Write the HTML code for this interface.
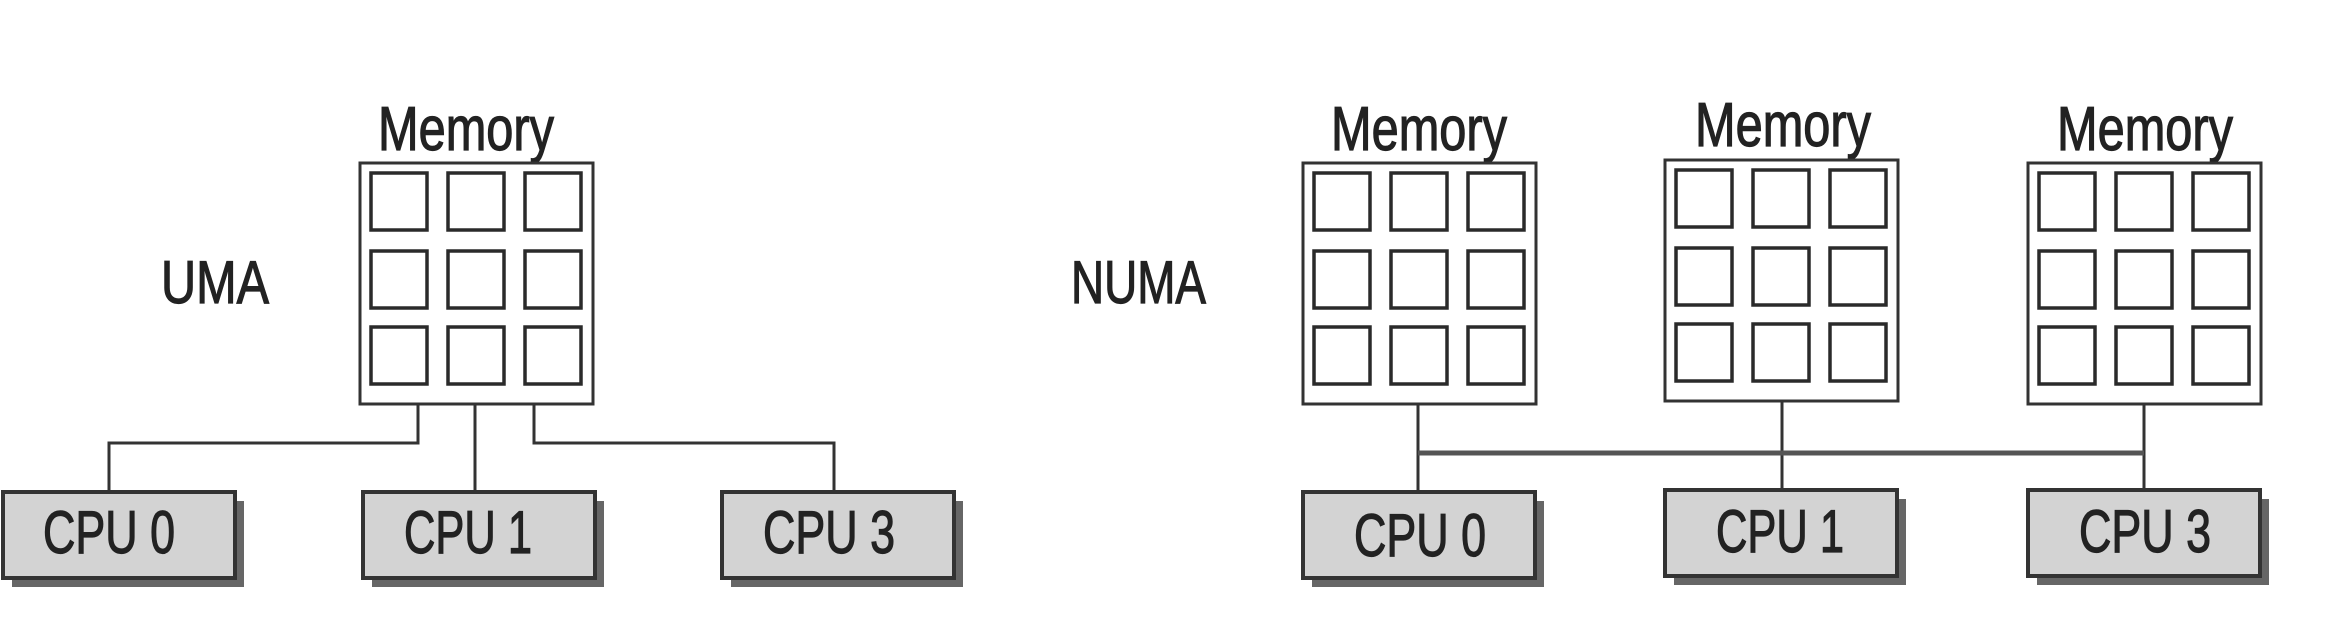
<!DOCTYPE html>
<html><head><meta charset="utf-8"><style>
html,body{margin:0;padding:0;background:#fff;}
svg{display:block;}
text{font-family:"Liberation Sans",sans-serif;fill:#222;stroke:#222;stroke-width:1.2;}
</style></head><body>
<svg width="2340" height="636" viewBox="0 0 2340 636" xmlns="http://www.w3.org/2000/svg">
<defs>
<g id="mem">
  <rect x="0" y="0" width="233" height="241" fill="#fff" stroke="#333" stroke-width="3"/>
  <g fill="none" stroke="#2a2a2a" stroke-width="3.5">
    <rect x="11" y="10" width="56" height="57"/><rect x="88" y="10" width="56" height="57"/><rect x="165" y="10" width="56" height="57"/>
    <rect x="11" y="88" width="56" height="57"/><rect x="88" y="88" width="56" height="57"/><rect x="165" y="88" width="56" height="57"/>
    <rect x="11" y="164" width="56" height="57"/><rect x="88" y="164" width="56" height="57"/><rect x="165" y="164" width="56" height="57"/>
  </g>
</g>
<g id="cpu">
  <rect x="9" y="9" width="232" height="86" fill="#666"/>
  <rect x="0" y="0" width="232" height="86" fill="#d3d3d3" stroke="#333" stroke-width="4"/>
</g>
</defs>

<!-- UMA -->
<text x="161" y="303" font-size="60" textLength="108" lengthAdjust="spacingAndGlyphs">UMA</text>
<text x="378" y="150" font-size="62" textLength="176" lengthAdjust="spacingAndGlyphs">Memory</text>
<use href="#mem" x="360" y="163"/>
<g stroke="#333" stroke-width="3" fill="none">
  <polyline points="418,404 418,443 109,443 109,492"/>
  <line x1="475" y1="404" x2="475" y2="492"/>
  <polyline points="534,404 534,443 834,443 834,492"/>
</g>
<use href="#cpu" x="3" y="492"/>
<use href="#cpu" x="363" y="492"/>
<use href="#cpu" x="722" y="492"/>
<text x="43" y="553" font-size="60" textLength="132" lengthAdjust="spacingAndGlyphs">CPU 0</text>
<text x="404" y="553" font-size="60" textLength="128" lengthAdjust="spacingAndGlyphs">CPU 1</text>
<text x="763" y="553" font-size="60" textLength="132" lengthAdjust="spacingAndGlyphs">CPU 3</text>

<!-- NUMA -->
<text x="1071" y="303" font-size="60" textLength="135" lengthAdjust="spacingAndGlyphs">NUMA</text>
<text x="1331" y="150" font-size="62" textLength="176" lengthAdjust="spacingAndGlyphs">Memory</text>
<text x="1695" y="146" font-size="62" textLength="176" lengthAdjust="spacingAndGlyphs">Memory</text>
<text x="2057" y="150" font-size="62" textLength="176" lengthAdjust="spacingAndGlyphs">Memory</text>
<use href="#mem" x="1303" y="163"/>
<use href="#mem" x="1665" y="160"/>
<use href="#mem" x="2028" y="163"/>
<g stroke="#333" stroke-width="3" fill="none">
  <line x1="1418" y1="404" x2="1418" y2="492"/>
  <line x1="1782" y1="401" x2="1782" y2="490"/>
  <line x1="2144" y1="404" x2="2144" y2="490"/>
</g>
<line x1="1418" y1="453" x2="2144" y2="453" stroke="#555" stroke-width="5"/>
<use href="#cpu" x="1303" y="492"/>
<use href="#cpu" x="1665" y="490"/>
<use href="#cpu" x="2028" y="490"/>
<text x="1354" y="556" font-size="60" textLength="132" lengthAdjust="spacingAndGlyphs">CPU 0</text>
<text x="1716" y="552" font-size="60" textLength="128" lengthAdjust="spacingAndGlyphs">CPU 1</text>
<text x="2079" y="552" font-size="60" textLength="132" lengthAdjust="spacingAndGlyphs">CPU 3</text>
</svg>
</body></html>
